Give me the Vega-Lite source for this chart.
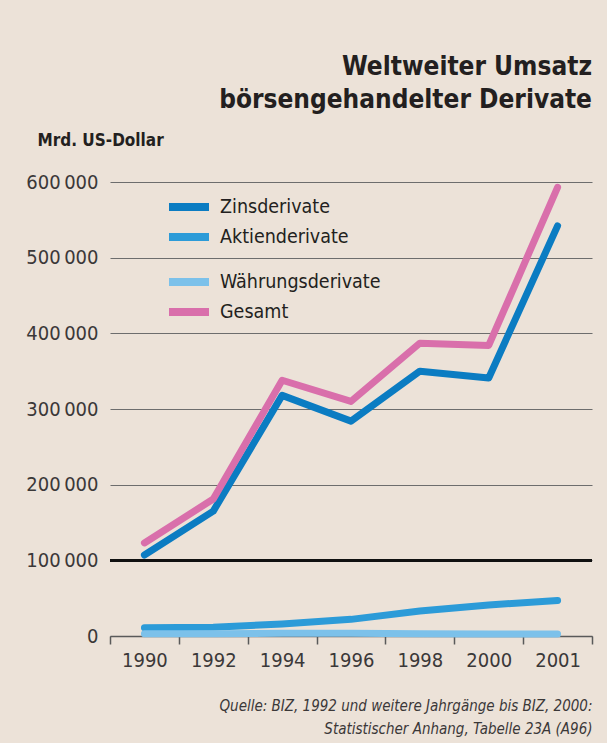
{
  "$schema": "https://vega.github.io/schema/vega-lite/v6.json",
  "width": 482,
  "height": 454,
  "autosize": {"type": "none"},
  "padding": {"left": 110, "top": 182, "right": 15, "bottom": 107},
  "background": "#ece2d8",
  "config": {
    "font": "'DejaVu Sans Condensed', sans-serif",
    "view": {"stroke": null}
  },
  "title": {
    "text": ["Weltweiter Umsatz", "börsengehandelter Derivate"],
    "anchor": "end",
    "frame": "group",
    "font": "'DejaVu Sans Condensed', sans-serif",
    "fontSize": 26,
    "fontWeight": "bold",
    "color": "#231f20",
    "lineHeight": 33,
    "offset": 18
  },
  "data": {
    "values": [
      {"year": "1990", "series": "Zinsderivate", "value": 107000},
      {"year": "1992", "series": "Zinsderivate", "value": 165000},
      {"year": "1994", "series": "Zinsderivate", "value": 318000},
      {"year": "1996", "series": "Zinsderivate", "value": 284000},
      {"year": "1998", "series": "Zinsderivate", "value": 350000},
      {"year": "2000", "series": "Zinsderivate", "value": 341000},
      {"year": "2001", "series": "Zinsderivate", "value": 542000},
      {"year": "1990", "series": "Aktienderivate", "value": 11000},
      {"year": "1992", "series": "Aktienderivate", "value": 11500},
      {"year": "1994", "series": "Aktienderivate", "value": 16000},
      {"year": "1996", "series": "Aktienderivate", "value": 22000},
      {"year": "1998", "series": "Aktienderivate", "value": 33000},
      {"year": "2000", "series": "Aktienderivate", "value": 41000},
      {"year": "2001", "series": "Aktienderivate", "value": 47000},
      {"year": "1990", "series": "Währungsderivate", "value": 3000},
      {"year": "1992", "series": "Währungsderivate", "value": 3000},
      {"year": "1994", "series": "Währungsderivate", "value": 3500},
      {"year": "1996", "series": "Währungsderivate", "value": 3500},
      {"year": "1998", "series": "Währungsderivate", "value": 3000},
      {"year": "2000", "series": "Währungsderivate", "value": 2500},
      {"year": "2001", "series": "Währungsderivate", "value": 2500},
      {"year": "1990", "series": "Gesamt", "value": 123000},
      {"year": "1992", "series": "Gesamt", "value": 181000},
      {"year": "1994", "series": "Gesamt", "value": 338000},
      {"year": "1996", "series": "Gesamt", "value": 310000},
      {"year": "1998", "series": "Gesamt", "value": 387000},
      {"year": "2000", "series": "Gesamt", "value": 384000},
      {"year": "2001", "series": "Gesamt", "value": 593000}
    ]
  },
  "encoding": {
    "x": {
      "field": "year",
      "type": "ordinal",
      "bandPosition": 0.5,
      "scale": {"type": "band", "paddingInner": 0, "paddingOuter": 0},
      "axis": {
        "labelAngle": 0,
        "labelFontSize": 20,
        "labelColor": "#3b3838",
        "labelPadding": 6,
        "tickBand": "extent",
        "ticks": true,
        "tickSize": 8,
        "tickWidth": 1.5,
        "tickColor": "#5a5a5a",
        "domain": true,
        "domainColor": "#5a5a5a",
        "domainWidth": 1.5,
        "grid": false,
        "title": ["Quelle: BIZ, 1992 und weitere Jahrgänge bis BIZ, 2000:", "Statistischer Anhang, Tabelle 23A (A96)"],
        "titleFontStyle": "italic",
        "titleFontWeight": "normal",
        "titleFontSize": 15,
        "titleColor": "#3b3838",
        "titleAlign": "right",
        "titleAnchor": "end",
        "titleX": 482,
        "titleY": 74,
        "titleBaseline": "alphabetic",
        "titleLineHeight": 23
      }
    },
    "y": {
      "field": "value",
      "type": "quantitative",
      "scale": {"domain": [0, 600000]},
      "axis": {
        "values": [0, 100000, 200000, 300000, 400000, 500000, 600000],
        "labelExpr": "replace(format(datum.value, ',d'), ',', '\u2009')",
        "labelFontSize": 20,
        "labelColor": "#3b3838",
        "labelPadding": 12,
        "ticks": false,
        "domain": false,
        "grid": true,
        "gridColor": "#6d6d6d",
        "gridWidth": 1.2,
        "title": "Mrd. US-Dollar",
        "titleAngle": 0,
        "titleAlign": "left",
        "titleBaseline": "alphabetic",
        "titleX": -73,
        "titleY": -37,
        "titleFontSize": 17,
        "titleFontWeight": "bold",
        "titleColor": "#231f20"
      }
    }
  },
  "layer": [
    {
      "mark": {"type": "rule", "color": "#111111", "strokeWidth": 2.5},
      "encoding": {"y": {"datum": 100000}, "x": null}
    },
    {
      "transform": [{"filter": {"field": "series", "oneOf": ["Zinsderivate", "Aktienderivate"]}}],
      "mark": {"type": "line", "strokeWidth": 7, "strokeCap": "round", "strokeJoin": "round"},
      "encoding": {
        "color": {
          "field": "series",
          "type": "nominal",
          "scale": {"domain": ["Zinsderivate", "Aktienderivate"], "range": ["#0b7cc2", "#2c9bd8"]},
          "legend": {
            "title": null,
            "orient": "none",
            "legendX": 55,
            "legendY": 11,
            "symbolType": "stroke",
            "symbolSize": 1600,
            "symbolStrokeWidth": 8,
            "labelFontSize": 19.5,
            "labelColor": "#231f20",
            "labelOffset": 7,
            "labelLimit": 300,
            "clipHeight": 28,
            "rowPadding": 2
          }
        }
      }
    },
    {
      "transform": [{"filter": {"field": "series", "oneOf": ["Währungsderivate", "Gesamt"]}}],
      "mark": {"type": "line", "strokeWidth": 7, "strokeCap": "round", "strokeJoin": "round"},
      "encoding": {
        "color": {
          "field": "series",
          "type": "nominal",
          "scale": {"domain": ["Währungsderivate", "Gesamt"], "range": ["#7cc1ea", "#d96fab"]},
          "legend": {
            "title": null,
            "orient": "none",
            "legendX": 55,
            "legendY": 86,
            "symbolType": "stroke",
            "symbolSize": 1600,
            "symbolStrokeWidth": 8,
            "labelFontSize": 19.5,
            "labelColor": "#231f20",
            "labelOffset": 7,
            "labelLimit": 300,
            "clipHeight": 28,
            "rowPadding": 2
          }
        }
      }
    }
  ],
  "resolve": {"scale": {"color": "independent"}, "legend": {"color": "independent"}}
}
